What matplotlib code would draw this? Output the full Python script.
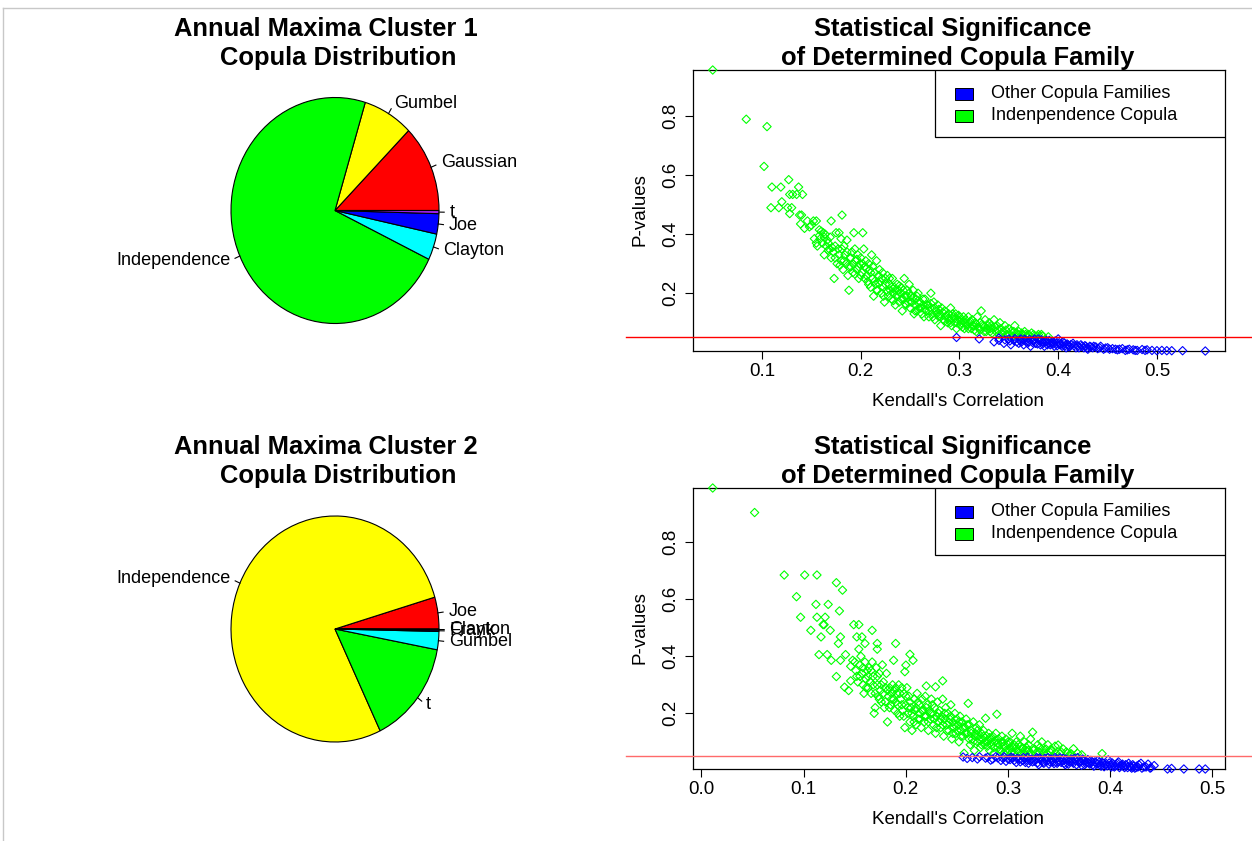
import numpy as np
import matplotlib
matplotlib.use("Agg")
import matplotlib.pyplot as plt
from matplotlib.patches import Rectangle
from matplotlib.lines import Line2D
import matplotlib.transforms as mtransforms

plt.rcParams['font.family'] = ['Liberation Sans', 'DejaVu Sans']

# ---- pie data (share of pairs per selected copula family, %) ----
pie1_names = ["Gaussian", "Gumbel", "Independence", "Clayton", "Joe", "t"]
pie1_share = [12.5, 7.8, 72.6, 3.75, 2.9, 0.45]
pie2_names = ["Joe", "Independence", "t", "Gumbel", "Frank", "Clayton"]
pie2_share = [4.55, 77.6, 14.9, 2.6, 0.2, 0.15]
pie_colors = ["red", "yellow", "#00FF00", "cyan", "blue", "#A020F0"]

# ---- scatter data: (kendall tau, p-value) ----
c1_indep = [
    (0.05, 0.957), (0.084, 0.79), (0.102, 0.63), (0.105, 0.765),
    (0.109, 0.49), (0.11, 0.56), (0.117, 0.49), (0.119, 0.56), (0.12, 0.51),
    (0.126, 0.49), (0.127, 0.585), (0.128, 0.535), (0.128, 0.47), (0.13, 0.49),
    (0.131, 0.535), (0.135, 0.535), (0.137, 0.56), (0.138, 0.465), (0.14, 0.465),
    (0.141, 0.535), (0.139, 0.435), (0.143, 0.42), (0.146, 0.445), (0.148, 0.425),
    (0.152, 0.445), (0.155, 0.445), (0.15, 0.43), (0.153, 0.385), (0.155, 0.37),
    (0.158, 0.395), (0.16, 0.41), (0.162, 0.405), (0.164, 0.40), (0.161, 0.37),
    (0.166, 0.38), (0.163, 0.33), (0.17, 0.445), (0.181, 0.465), (0.156, 0.36),
    (0.159, 0.385), (0.165, 0.36), (0.167, 0.345),
    (0.168, 0.35), (0.17, 0.32), (0.172, 0.34), (0.173, 0.25), (0.174, 0.36),
    (0.175, 0.405), (0.176, 0.30), (0.178, 0.405), (0.178, 0.33), (0.18, 0.385),
    (0.18, 0.31), (0.182, 0.28), (0.183, 0.36), (0.184, 0.33), (0.185, 0.30),
    (0.186, 0.38), (0.187, 0.26), (0.188, 0.21), (0.189, 0.32), (0.19, 0.29),
    (0.191, 0.34), (0.192, 0.27), (0.193, 0.405), (0.194, 0.35), (0.195, 0.31),
    (0.196, 0.28), (0.197, 0.33), (0.198, 0.25), (0.199, 0.30), (0.2, 0.32),
    (0.201, 0.27), (0.202, 0.405), (0.203, 0.35), (0.204, 0.29), (0.205, 0.31),
    (0.206, 0.26), (0.207, 0.24), (0.208, 0.30), (0.209, 0.28), (0.21, 0.22),
    (0.211, 0.33), (0.212, 0.25), (0.213, 0.19), (0.214, 0.27), (0.215, 0.23),
    (0.216, 0.31), (0.217, 0.21), (0.218, 0.26), (0.22, 0.24), (0.221, 0.20),
    (0.222, 0.27), (0.223, 0.22), (0.224, 0.17), (0.225, 0.25), (0.226, 0.21),
    (0.227, 0.26), (0.228, 0.19), (0.229, 0.23), (0.23, 0.21), (0.231, 0.18),
    (0.232, 0.25), (0.233, 0.20), (0.234, 0.22), (0.235, 0.16), (0.236, 0.19),
    (0.237, 0.23), (0.238, 0.21), (0.239, 0.17), (0.24, 0.20), (0.241, 0.22),
    (0.242, 0.14), (0.243, 0.18), (0.244, 0.25), (0.245, 0.19), (0.246, 0.16),
    (0.247, 0.21), (0.248, 0.17), (0.249, 0.23), (0.25, 0.15), (0.251, 0.19),
    (0.252, 0.17), (0.253, 0.21), (0.254, 0.13), (0.255, 0.16), (0.256, 0.18),
    (0.257, 0.14), (0.258, 0.20), (0.259, 0.15), (0.26, 0.17), (0.262, 0.13),
    (0.263, 0.16), (0.264, 0.12), (0.265, 0.18), (0.266, 0.14), (0.268, 0.16),
    (0.269, 0.12), (0.27, 0.15), (0.271, 0.20), (0.272, 0.13), (0.274, 0.17),
    (0.275, 0.11), (0.276, 0.14), (0.278, 0.16), (0.279, 0.12), (0.28, 0.13),
    (0.281, 0.09), (0.282, 0.15), (0.284, 0.11), (0.285, 0.14), (0.286, 0.12),
    (0.288, 0.10), (0.289, 0.13), (0.29, 0.11), (0.291, 0.15), (0.292, 0.09),
    (0.294, 0.12), (0.295, 0.10), (0.296, 0.13), (0.297, 0.08), (0.298, 0.11),
    (0.3, 0.12), (0.301, 0.09), (0.302, 0.10), (0.304, 0.12), (0.305, 0.08),
    (0.306, 0.11), (0.308, 0.09), (0.309, 0.12), (0.31, 0.10), (0.312, 0.08),
    (0.313, 0.11), (0.314, 0.09), (0.316, 0.10), (0.317, 0.07), (0.318, 0.12),
    (0.32, 0.08), (0.321, 0.10), (0.322, 0.14), (0.324, 0.09), (0.325, 0.07),
    (0.326, 0.11), (0.328, 0.08), (0.33, 0.10), (0.331, 0.07), (0.332, 0.09),
    (0.334, 0.08), (0.335, 0.11), (0.337, 0.07), (0.338, 0.09), (0.34, 0.06),
    (0.341, 0.10), (0.342, 0.08), (0.344, 0.07), (0.346, 0.09), (0.348, 0.06),
    (0.35, 0.08), (0.352, 0.07), (0.354, 0.055), (0.356, 0.09), (0.358, 0.065),
    (0.36, 0.07), (0.362, 0.055), (0.364, 0.06), (0.366, 0.07), (0.368, 0.055),
    (0.37, 0.06), (0.373, 0.065), (0.376, 0.055), (0.38, 0.06), (0.384, 0.055),
    (0.39, 0.052),
    (0.158, 0.415), (0.163, 0.39), (0.167, 0.37), (0.169, 0.39), (0.171, 0.355),
    (0.174, 0.32), (0.177, 0.35), (0.179, 0.295), (0.181, 0.35), (0.183, 0.31),
    (0.186, 0.34), (0.188, 0.29), (0.19, 0.32), (0.192, 0.30), (0.194, 0.265),
    (0.196, 0.315), (0.198, 0.29), (0.2, 0.26), (0.202, 0.30), (0.204, 0.25),
    (0.206, 0.285), (0.208, 0.23), (0.21, 0.27), (0.212, 0.29), (0.214, 0.24),
    (0.216, 0.21), (0.218, 0.235), (0.219, 0.28), (0.221, 0.25), (0.223, 0.19),
    (0.225, 0.23), (0.227, 0.205), (0.229, 0.25), (0.231, 0.22), (0.233, 0.175),
    (0.235, 0.21), (0.237, 0.195), (0.239, 0.225), (0.241, 0.18), (0.243, 0.21),
    (0.245, 0.165), (0.247, 0.19), (0.249, 0.2), (0.251, 0.17), (0.253, 0.185),
    (0.255, 0.14), (0.257, 0.19), (0.259, 0.165), (0.261, 0.15), (0.263, 0.18),
    (0.265, 0.145), (0.267, 0.16), (0.269, 0.14), (0.271, 0.165), (0.273, 0.12),
    (0.275, 0.15), (0.277, 0.13), (0.279, 0.145), (0.281, 0.12), (0.283, 0.135),
    (0.285, 0.105), (0.287, 0.125), (0.289, 0.115), (0.291, 0.1), (0.293, 0.13),
    (0.295, 0.115), (0.297, 0.1), (0.299, 0.125), (0.301, 0.11), (0.303, 0.085),
    (0.305, 0.1), (0.307, 0.095), (0.309, 0.08), (0.311, 0.105), (0.313, 0.09),
    (0.315, 0.075), (0.317, 0.095), (0.319, 0.085), (0.321, 0.075), (0.323, 0.095),
    (0.325, 0.085), (0.327, 0.07), (0.329, 0.09), (0.331, 0.08), (0.333, 0.065),
    (0.336, 0.085), (0.339, 0.075), (0.343, 0.065), (0.347, 0.075), (0.351, 0.06),
    (0.355, 0.07), (0.359, 0.06), (0.363, 0.065), (0.367, 0.06), (0.371, 0.055),
    (0.375, 0.06), (0.379, 0.055), (0.383, 0.06),
]
c1_other = [
    (0.297, 0.05), (0.32, 0.045), (0.335, 0.035), (0.34, 0.04), (0.345, 0.03),
    (0.35, 0.045), (0.352, 0.025), (0.355, 0.04), (0.358, 0.035), (0.36, 0.03),
    (0.362, 0.045), (0.365, 0.025), (0.367, 0.04), (0.37, 0.035), (0.372, 0.02),
    (0.375, 0.04), (0.377, 0.03), (0.38, 0.045), (0.382, 0.025), (0.384, 0.035),
    (0.386, 0.02), (0.388, 0.04), (0.39, 0.03), (0.392, 0.025), (0.394, 0.035),
    (0.396, 0.02), (0.398, 0.03), (0.4, 0.045), (0.402, 0.025), (0.404, 0.02),
    (0.406, 0.03), (0.408, 0.015), (0.41, 0.025), (0.412, 0.02), (0.415, 0.03),
    (0.418, 0.015), (0.42, 0.02), (0.423, 0.025), (0.426, 0.015), (0.428, 0.02),
    (0.43, 0.01), (0.433, 0.018), (0.436, 0.02), (0.44, 0.012), (0.443, 0.02),
    (0.446, 0.01), (0.45, 0.015), (0.455, 0.012), (0.46, 0.008), (0.465, 0.012),
    (0.468, 0.006), (0.472, 0.01), (0.476, 0.008), (0.48, 0.006), (0.485, 0.009),
    (0.49, 0.008), (0.5, 0.005), (0.505, 0.006), (0.51, 0.005), (0.515, 0.005),
    (0.526, 0.005), (0.549, 0.004),
    (0.34, 0.048), (0.346, 0.042), (0.351, 0.038), (0.356, 0.046), (0.361, 0.04),
    (0.363, 0.035), (0.366, 0.044), (0.369, 0.03), (0.371, 0.043), (0.374, 0.033),
    (0.376, 0.045), (0.379, 0.028), (0.381, 0.038), (0.383, 0.042), (0.385, 0.03),
    (0.387, 0.035), (0.389, 0.025), (0.391, 0.04), (0.393, 0.03), (0.395, 0.028),
    (0.397, 0.038), (0.399, 0.022), (0.401, 0.032), (0.403, 0.028), (0.405, 0.035),
    (0.407, 0.022), (0.409, 0.028), (0.411, 0.018), (0.413, 0.026), (0.416, 0.022),
    (0.419, 0.025), (0.421, 0.015), (0.424, 0.02), (0.427, 0.022), (0.429, 0.014),
    (0.432, 0.02), (0.435, 0.015), (0.438, 0.018), (0.442, 0.015), (0.448, 0.014),
    (0.452, 0.01), (0.458, 0.01), (0.462, 0.01), (0.47, 0.008), (0.478, 0.006),
    (0.488, 0.006), (0.495, 0.006),
]
c2_indep = [
    (0.011, 0.99), (0.052, 0.904), (0.081, 0.685), (0.101, 0.685), (0.113, 0.685),
    (0.132, 0.658), (0.138, 0.632), (0.093, 0.609), (0.112, 0.582), (0.124, 0.582),
    (0.135, 0.559), (0.097, 0.537), (0.113, 0.537), (0.121, 0.537), (0.119, 0.511),
    (0.12, 0.511), (0.107, 0.491), (0.126, 0.491), (0.117, 0.468), (0.136, 0.468),
    (0.134, 0.445), (0.149, 0.511), (0.154, 0.511), (0.167, 0.491), (0.152, 0.468),
    (0.157, 0.468), (0.16, 0.445), (0.172, 0.445), (0.172, 0.425), (0.154, 0.425),
    (0.115, 0.406), (0.123, 0.406), (0.127, 0.386), (0.136, 0.386), (0.141, 0.406),
    (0.132, 0.329), (0.14, 0.292), (0.144, 0.28), (0.148, 0.386), (0.146, 0.365),
    (0.146, 0.314), (0.19, 0.445), (0.204, 0.407), (0.207, 0.386), (0.188, 0.386),
    (0.2, 0.369), (0.199, 0.346), (0.236, 0.314), (0.229, 0.293), (0.22, 0.296),
    (0.15, 0.38), (0.151, 0.35), (0.152, 0.33), (0.153, 0.31), (0.155, 0.37),
    (0.156, 0.4), (0.157, 0.34), (0.158, 0.3), (0.159, 0.27), (0.16, 0.38),
    (0.161, 0.32), (0.162, 0.35), (0.163, 0.29), (0.164, 0.36), (0.165, 0.31),
    (0.166, 0.27), (0.167, 0.38), (0.168, 0.33), (0.169, 0.2), (0.17, 0.22),
    (0.171, 0.36), (0.172, 0.3), (0.173, 0.26), (0.174, 0.34), (0.175, 0.28),
    (0.176, 0.24), (0.177, 0.37), (0.178, 0.31), (0.179, 0.22), (0.18, 0.29),
    (0.181, 0.34), (0.182, 0.17), (0.183, 0.26), (0.184, 0.29), (0.185, 0.23),
    (0.186, 0.27), (0.187, 0.3), (0.188, 0.25), (0.189, 0.21), (0.19, 0.29),
    (0.191, 0.27), (0.192, 0.23), (0.193, 0.3), (0.194, 0.19), (0.195, 0.25),
    (0.196, 0.29), (0.197, 0.21), (0.198, 0.27), (0.199, 0.15), (0.2, 0.23),
    (0.201, 0.29), (0.202, 0.2), (0.203, 0.26), (0.204, 0.17), (0.205, 0.22),
    (0.206, 0.14), (0.207, 0.19), (0.208, 0.25), (0.209, 0.21), (0.21, 0.16),
    (0.211, 0.27), (0.212, 0.18), (0.213, 0.23), (0.214, 0.2), (0.215, 0.15),
    (0.216, 0.25), (0.217, 0.21), (0.218, 0.17), (0.219, 0.26), (0.22, 0.19),
    (0.221, 0.23), (0.222, 0.14), (0.223, 0.21), (0.224, 0.18), (0.225, 0.25),
    (0.226, 0.2), (0.227, 0.16), (0.228, 0.22), (0.229, 0.13), (0.23, 0.19),
    (0.231, 0.24), (0.232, 0.17), (0.233, 0.21), (0.234, 0.15), (0.235, 0.19),
    (0.236, 0.25), (0.237, 0.12), (0.238, 0.18), (0.239, 0.22), (0.24, 0.16),
    (0.241, 0.2), (0.242, 0.14), (0.243, 0.18), (0.244, 0.23), (0.245, 0.11),
    (0.246, 0.17), (0.247, 0.15), (0.248, 0.2), (0.249, 0.13), (0.25, 0.18),
    (0.251, 0.16), (0.252, 0.1), (0.253, 0.19), (0.254, 0.14), (0.255, 0.17),
    (0.256, 0.12), (0.257, 0.06), (0.258, 0.15), (0.259, 0.18), (0.26, 0.13),
    (0.261, 0.235), (0.262, 0.16), (0.263, 0.09), (0.264, 0.14), (0.265, 0.11),
    (0.266, 0.17), (0.267, 0.07), (0.268, 0.13), (0.269, 0.15), (0.27, 0.1),
    (0.271, 0.12), (0.272, 0.16), (0.273, 0.08), (0.274, 0.13), (0.275, 0.11),
    (0.276, 0.14), (0.277, 0.09), (0.278, 0.183), (0.279, 0.12), (0.28, 0.1),
    (0.281, 0.13), (0.282, 0.07), (0.283, 0.11), (0.284, 0.09), (0.285, 0.12),
    (0.286, 0.06), (0.287, 0.1), (0.288, 0.13), (0.289, 0.197), (0.29, 0.08),
    (0.291, 0.11), (0.292, 0.09), (0.293, 0.07), (0.294, 0.12), (0.295, 0.1),
    (0.296, 0.06), (0.297, 0.08), (0.298, 0.11), (0.3, 0.09), (0.301, 0.07),
    (0.302, 0.1), (0.304, 0.13), (0.305, 0.08), (0.306, 0.06), (0.308, 0.1),
    (0.309, 0.07), (0.31, 0.09), (0.312, 0.12), (0.313, 0.06), (0.314, 0.08),
    (0.316, 0.1), (0.318, 0.07), (0.32, 0.09), (0.322, 0.11), (0.324, 0.134),
    (0.325, 0.07), (0.327, 0.06), (0.329, 0.09), (0.331, 0.08), (0.333, 0.1),
    (0.335, 0.06), (0.337, 0.075), (0.339, 0.09), (0.341, 0.065), (0.343, 0.07),
    (0.346, 0.085), (0.349, 0.089), (0.351, 0.06), (0.354, 0.075), (0.357, 0.065),
    (0.36, 0.055), (0.364, 0.076), (0.368, 0.06), (0.372, 0.055), (0.392, 0.059),
    (0.155, 0.33), (0.158, 0.36), (0.161, 0.29), (0.163, 0.33), (0.166, 0.35),
    (0.168, 0.3), (0.17, 0.27), (0.172, 0.33), (0.174, 0.25), (0.176, 0.3),
    (0.178, 0.27), (0.18, 0.24), (0.182, 0.28), (0.184, 0.22), (0.186, 0.25),
    (0.188, 0.28), (0.19, 0.24), (0.192, 0.2), (0.194, 0.27), (0.196, 0.23),
    (0.198, 0.19), (0.2, 0.26), (0.202, 0.22), (0.204, 0.24), (0.206, 0.2),
    (0.208, 0.17), (0.21, 0.22), (0.212, 0.24), (0.214, 0.18), (0.216, 0.21),
    (0.218, 0.19), (0.22, 0.22), (0.222, 0.17), (0.224, 0.2), (0.226, 0.23),
    (0.228, 0.18), (0.23, 0.15), (0.232, 0.2), (0.234, 0.18), (0.236, 0.16),
    (0.238, 0.2), (0.24, 0.14), (0.242, 0.17), (0.244, 0.19), (0.246, 0.13),
    (0.248, 0.16), (0.25, 0.14), (0.252, 0.17), (0.254, 0.12), (0.256, 0.15),
    (0.258, 0.13), (0.26, 0.16), (0.262, 0.11), (0.264, 0.13), (0.266, 0.1),
    (0.268, 0.12), (0.27, 0.14), (0.272, 0.11), (0.274, 0.09), (0.276, 0.12),
    (0.278, 0.1), (0.28, 0.085), (0.282, 0.115), (0.284, 0.1), (0.286, 0.08),
    (0.288, 0.105), (0.29, 0.095), (0.292, 0.075), (0.294, 0.1), (0.296, 0.085),
    (0.298, 0.07), (0.3, 0.1), (0.302, 0.08), (0.304, 0.065), (0.306, 0.09),
    (0.308, 0.08), (0.31, 0.065), (0.312, 0.085), (0.314, 0.075), (0.316, 0.06),
    (0.318, 0.08), (0.32, 0.07), (0.322, 0.06), (0.326, 0.075), (0.33, 0.065),
    (0.334, 0.07), (0.338, 0.06), (0.342, 0.075), (0.347, 0.06), (0.352, 0.065),
    (0.358, 0.06), (0.362, 0.058),
]
c2_other = [
    (0.256, 0.047), (0.265, 0.045), (0.272, 0.048), (0.28, 0.046), (0.285, 0.04),
    (0.29, 0.044), (0.293, 0.035), (0.296, 0.048), (0.3, 0.04), (0.303, 0.046),
    (0.306, 0.035), (0.309, 0.042), (0.312, 0.03), (0.315, 0.045), (0.318, 0.038),
    (0.32, 0.025), (0.323, 0.04), (0.326, 0.032), (0.328, 0.045), (0.33, 0.02),
    (0.332, 0.038), (0.334, 0.028), (0.336, 0.042), (0.338, 0.033), (0.34, 0.022),
    (0.342, 0.04), (0.344, 0.03), (0.346, 0.045), (0.348, 0.025), (0.35, 0.036),
    (0.352, 0.028), (0.354, 0.042), (0.356, 0.02), (0.358, 0.034), (0.36, 0.03),
    (0.362, 0.04), (0.364, 0.025), (0.366, 0.035), (0.368, 0.045), (0.37, 0.028),
    (0.372, 0.018), (0.374, 0.033), (0.376, 0.025), (0.378, 0.038), (0.38, 0.022),
    (0.382, 0.03), (0.384, 0.015), (0.386, 0.027), (0.388, 0.035), (0.39, 0.02),
    (0.392, 0.028), (0.394, 0.013), (0.396, 0.024), (0.398, 0.037), (0.4, 0.018),
    (0.402, 0.026), (0.404, 0.012), (0.406, 0.02), (0.408, 0.03), (0.41, 0.015),
    (0.412, 0.022), (0.414, 0.01), (0.416, 0.018), (0.418, 0.025), (0.42, 0.012),
    (0.422, 0.02), (0.424, 0.008), (0.426, 0.015), (0.428, 0.02), (0.43, 0.025),
    (0.433, 0.012), (0.437, 0.022), (0.44, 0.01), (0.443, 0.017), (0.456, 0.005),
    (0.46, 0.007), (0.472, 0.005), (0.487, 0.005), (0.493, 0.005),
    (0.26, 0.042), (0.27, 0.04), (0.278, 0.043), (0.283, 0.036), (0.288, 0.048),
    (0.295, 0.042), (0.298, 0.032), (0.302, 0.038), (0.305, 0.044), (0.308, 0.028),
    (0.311, 0.04), (0.314, 0.035), (0.317, 0.028), (0.319, 0.046), (0.321, 0.035),
    (0.324, 0.03), (0.327, 0.04), (0.329, 0.027), (0.331, 0.044), (0.333, 0.034),
    (0.335, 0.025), (0.337, 0.038), (0.339, 0.045), (0.341, 0.03), (0.343, 0.036),
    (0.345, 0.024), (0.347, 0.04), (0.349, 0.03), (0.351, 0.044), (0.353, 0.035),
    (0.355, 0.025), (0.357, 0.04), (0.359, 0.022), (0.361, 0.035), (0.363, 0.03),
    (0.365, 0.042), (0.367, 0.02), (0.369, 0.035), (0.371, 0.03), (0.373, 0.04),
    (0.375, 0.02), (0.377, 0.03), (0.379, 0.026), (0.381, 0.035), (0.383, 0.02),
    (0.385, 0.03), (0.387, 0.022), (0.389, 0.028), (0.391, 0.015), (0.393, 0.025),
    (0.395, 0.02), (0.397, 0.016), (0.399, 0.026), (0.401, 0.012), (0.403, 0.02),
    (0.405, 0.016), (0.407, 0.025), (0.409, 0.01), (0.411, 0.018), (0.413, 0.014),
    (0.415, 0.02), (0.417, 0.01), (0.419, 0.016), (0.421, 0.008), (0.423, 0.015),
    (0.425, 0.01), (0.427, 0.012), (0.431, 0.008), (0.435, 0.012), (0.439, 0.008),
]
alpha_level = 0.05

W, H = 1252, 841
fig = plt.figure(figsize=(W / 100, H / 100), dpi=100)


def px_rect(left, top, right, bottom):
    return [left / W, 1 - bottom / H, (right - left) / W, (bottom - top) / H]


def draw_pie(cy, names, share, title_y):
    cx, rx, ry = 335, 104, 113
    ax = fig.add_axes(px_rect(cx - 1.25 * rx, cy - 1.25 * ry, cx + 1.25 * rx, cy + 1.25 * ry))
    wedges, _ = ax.pie(share, colors=pie_colors, startangle=0, counterclock=True,
                       wedgeprops=dict(edgecolor='black', linewidth=0.8))
    ax.set_aspect('auto')
    ax.set_xlim(-1.25, 1.25)
    ax.set_ylim(-1.25, 1.25)
    for w, name in zip(wedges, names):
        mid = np.deg2rad((w.theta1 + w.theta2) / 2)
        c, s = np.cos(mid), np.sin(mid)
        ax.plot([c, 1.05 * c], [s, 1.05 * s], color='black', lw=0.8)
        ax.text(1.1 * c, 1.1 * s, name, ha='left' if c >= 0 else 'right',
                va='center', fontsize=13)
    fig.text(326 / W, 1 - title_y[0] / H, title_y[2], ha='center', va='baseline',
             fontsize=18.4, fontweight='bold')
    fig.text(338 / W, 1 - title_y[1] / H, "Copula Distribution", ha='center',
             va='baseline', fontsize=18.4, fontweight='bold')


def draw_scatter(dy, indep, other, line_col):
    L, T, R, B = 693, 70 + dy, 1225, 351 + dy
    ax = fig.add_axes(px_rect(L, T, R, B))
    gi = np.array(indep)
    bo = np.array(other)
    allx = np.concatenate([gi[:, 0], bo[:, 0]])
    ally = np.concatenate([gi[:, 1], bo[:, 1]])
    ext = 0.04 * (allx.max() - allx.min())
    ax.set_ylim(ally.min(), ally.max())
    ax.scatter(gi[:, 0], gi[:, 1], marker='D', s=18, facecolors='none',
               edgecolors='#00FF00', linewidths=0.8, clip_on=False, zorder=3)
    ax.scatter(bo[:, 0], bo[:, 1], marker='D', s=18, facecolors='none',
               edgecolors='#0000FF', linewidths=0.8, clip_on=False, zorder=3)
    # significance level line runs across the whole figure cell (xpd=TRUE)
    trans = mtransforms.blended_transform_factory(fig.transFigure, ax.transData)
    ax.add_line(Line2D([0.5, 1.0], [alpha_level, alpha_level], transform=trans,
                       color=line_col, lw=1.0, clip_on=False, zorder=4))

    ax.set_xticks(np.arange(0, 0.51, 0.1))
    ax.set_yticks([0.2, 0.4, 0.6, 0.8])
    ax.xaxis.set_major_formatter(matplotlib.ticker.FormatStrFormatter('%.1f'))
    ax.yaxis.set_major_formatter(matplotlib.ticker.FormatStrFormatter('%.1f'))
    ax.set_xlim(allx.min() - ext, allx.max() + ext)
    ax.tick_params(direction='out', length=5.5, width=0.8, labelsize=13.5)
    ax.tick_params(axis='x', pad=3)
    ax.tick_params(axis='y', pad=4.5, labelrotation=90)
    for lab in ax.get_yticklabels():
        lab.set_va('center')
    for sp in ax.spines.values():
        sp.set_linewidth(0.9)

    def to_ax(x, y):
        return (x - L) / (R - L), (B - y) / (B - T)

    ax.text(*to_ax(958, 401.5 + dy), "Kendall's Correlation", transform=ax.transAxes,
            ha='center', va='center', fontsize=13.5)
    ax.text(*to_ax(640, 210 + dy), "P-values", transform=ax.transAxes,
            ha='center', va='center', rotation=90, fontsize=13.5)

    # legend box (top right, R style)
    x0, y0 = to_ax(935, 137 + dy)
    x1, y1 = to_ax(1225, 70 + dy)
    ax.add_patch(Rectangle((x0, y0), x1 - x0, y1 - y0, transform=ax.transAxes,
                           facecolor='white', edgecolor='black', lw=0.9, zorder=5))
    for row, (col, lab) in enumerate([('#0000FF', "Other Copula Families"),
                                      ('#00FF00', "Indenpendence Copula")]):
        yc = 93.5 + 22 * row + dy
        sx0, sy0 = to_ax(955, yc + 6)
        sx1, sy1 = to_ax(973, yc - 6)
        ax.add_patch(Rectangle((sx0, sy0), sx1 - sx0, sy1 - sy0, transform=ax.transAxes,
                               facecolor=col, edgecolor='black', lw=0.7, zorder=6))
        ax.text(*to_ax(991, yc), lab, transform=ax.transAxes, ha='left', va='center',
                fontsize=13, zorder=6)

    fig.text(953 / W, 1 - (36 + dy) / H, "Statistical Significance", ha='center',
             va='baseline', fontsize=18.4, fontweight='bold')
    fig.text(957.5 / W, 1 - (65 + dy) / H, "of Determined Copula Family", ha='center',
             va='baseline', fontsize=18.4, fontweight='bold')


draw_pie(210.5, pie1_names, pie1_share, (36, 65, "Annual Maxima Cluster 1"))
draw_pie(629, pie2_names, pie2_share, (454, 483, "Annual Maxima Cluster 2"))
draw_scatter(0, c1_indep, c1_other, 'red')
draw_scatter(418, c2_indep, c2_other, '#ff6a6a')

# thin grey frame of the original screenshot
fig.add_artist(Line2D([3 / W, 1], [1 - 8 / H, 1 - 8 / H], color='#c8c8c8', lw=1))
fig.add_artist(Line2D([3 / W, 3 / W], [0, 1 - 8 / H], color='#c8c8c8', lw=1))

fig.savefig("out.png", dpi=100)
